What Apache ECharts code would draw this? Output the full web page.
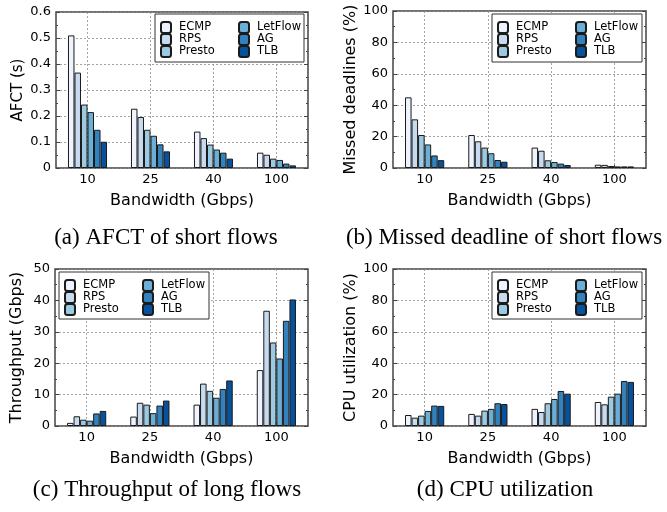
<!DOCTYPE html>
<html>
<head>
<meta charset="utf-8">
<script src="https://cdn.jsdelivr.net/npm/echarts@6/dist/echarts.min.js"></script>
<style>
  html, body { margin: 0; padding: 0; background: #fff; }
  #chart { width: 667px; height: 512px; }
</style>
</head>
<body>
<div id="chart"></div>
<script>
// Link bandwidths on the x axis
const categories = ['10', '25', '40', '100'];
// Load-balancing schemes, one bar per scheme in each group
const schemes = ['ECMP', 'RPS', 'Presto', 'LetFlow', 'AG', 'TLB'];
const schemeColors = ['#eff3ff', '#c6dbef', '#9ecae1', '#6baed6', '#3182bd', '#08519c'];

// (a) average flow completion time of short flows, seconds (rows follow `schemes`)
const afct = [
  [0.510, 0.228, 0.140, 0.059],
  [0.367, 0.196, 0.115, 0.051],
  [0.244, 0.147, 0.090, 0.036],
  [0.215, 0.124, 0.071, 0.031],
  [0.147, 0.091, 0.059, 0.017],
  [0.101, 0.064, 0.036, 0.010]
];
// (b) share of short flows that missed their deadline, %
const missedDeadlines = [
  [45, 21, 13, 2.1],
  [31, 17, 11, 2.0],
  [21, 13, 4.9, 1.3],
  [15, 9.4, 3.8, 1.0],
  [8, 5.1, 2.8, 1.0],
  [5, 4.0, 1.9, 1.0]
];
// (c) throughput of long flows, Gbps
const throughput = [
  [1.0, 3.0, 6.8, 17.8],
  [3.1, 7.4, 13.5, 36.7],
  [2.0, 6.8, 11.2, 26.6],
  [1.7, 4.1, 9.0, 21.5],
  [4.0, 6.5, 11.8, 33.5],
  [4.8, 8.1, 14.5, 40.3]
];
// (d) CPU utilization, %
const cpuUtil = [
  [7.0, 7.7, 10.9, 15.3],
  [5.3, 6.6, 8.9, 13.8],
  [6.6, 9.8, 14.5, 18.7],
  [9.6, 10.9, 17.2, 20.6],
  [13.0, 14.5, 22.3, 28.7],
  [12.8, 14.0, 20.6, 28.1]
];

// Per-panel axis settings
const panels = [
  { data: afct, yName: 'AFCT (s)', yNameSize: 15, max: 0.6, interval: 0.1,
    grid: { left: 56, top: 12, width: 252, height: 156 },
    legendBox: { x: 155, y: 14, w: 149, h: 48 },
    caption: '(a) AFCT of short flows', capX: 166, capY: 238 },
  { data: missedDeadlines, yName: 'Missed deadlines (%)', yNameSize: 16, max: 100, interval: 20,
    grid: { left: 393, top: 11, width: 253, height: 157 },
    legendBox: { x: 492, y: 14, w: 150, h: 48 },
    caption: '(b) Missed deadline of short flows', capX: 504, capY: 238 },
  { data: throughput, yName: 'Throughput (Gbps)', yNameSize: 16, max: 50, interval: 10,
    grid: { left: 55, top: 269, width: 253, height: 157 },
    legendBox: { x: 59, y: 272, w: 150, h: 47 },
    caption: '(c) Throughput of long flows', capX: 167, capY: 490 },
  { data: cpuUtil, yName: 'CPU utilization (%)', yNameSize: 16, max: 100, interval: 20,
    grid: { left: 393, top: 269, width: 253, height: 157 },
    legendBox: { x: 492, y: 272, w: 150, h: 47 },
    caption: '(d) CPU utilization', capX: 505, capY: 490 }
];

const sans = 'DejaVu Sans';
const frameColor = '#444';
const gridLineStyle = { color: '#8c8c8c', type: [2, 2], width: 0.8 };

const option = {
  animation: false,
  backgroundColor: '#fff',
  grid: [], xAxis: [], yAxis: [], series: [], legend: [], graphic: []
};

panels.forEach((p, gi) => {
  option.grid.push(Object.assign({ show: true, borderColor: frameColor, borderWidth: 1.5,
    backgroundColor: 'transparent', containLabel: false }, p.grid));

  option.xAxis.push({
    type: 'category', gridIndex: gi, data: categories,
    name: 'Bandwidth (Gbps)', nameLocation: 'middle', nameGap: 25,
    nameTextStyle: { fontFamily: sans, fontSize: 16, color: '#000' },
    axisLine: { show: false },
    axisTick: { show: true, inside: true, alignWithLabel: true, length: 3, lineStyle: { color: frameColor } },
    axisLabel: { fontFamily: sans, fontSize: 13, color: '#000', margin: 5 },
    splitLine: { show: true, alignWithLabel: true, lineStyle: gridLineStyle }
  });

  const yBase = {
    type: 'value', gridIndex: gi, min: 0, max: p.max, interval: p.interval,
    axisLine: { show: false },
    axisTick: { show: true, inside: true, length: 4, lineStyle: { color: frameColor } },
    minorTick: { show: true, splitNumber: 2, length: 2, lineStyle: { color: frameColor } }
  };
  option.yAxis.push(Object.assign({}, yBase, {
    position: 'left',
    name: p.yName, nameLocation: 'middle', nameGap: 30,
    nameTextStyle: { fontFamily: sans, fontSize: p.yNameSize, color: '#000' },
    axisLabel: { fontFamily: sans, fontSize: 13, color: '#000', margin: 5 },
    splitLine: { show: true, lineStyle: gridLineStyle }
  }));
  // mirrored ticks on the right edge of the frame
  option.yAxis.push(Object.assign({}, yBase, {
    position: 'right',
    axisLabel: { show: false },
    splitLine: { show: false }
  }));

  schemes.forEach((name, si) => {
    option.series.push({
      type: 'bar', name: name, xAxisIndex: gi, yAxisIndex: gi * 2,
      data: p.data[si],
      barGap: '0%', barCategoryGap: '38%',
      itemStyle: { color: schemeColors[si], borderColor: '#1b1b1b', borderWidth: 1 },
      emphasis: { disabled: true }
    });
  });

  // legend: two columns inside a framed box
  const b = p.legendBox;
  option.graphic.push({
    type: 'rect', silent: true, z: 5,
    shape: { x: b.x, y: b.y, width: b.w, height: b.h },
    style: { fill: '#fff', stroke: '#333', lineWidth: 1 }
  });
  [schemes.slice(0, 3), schemes.slice(3)].forEach((col, ci) => {
    option.legend.push({
      orient: 'vertical', left: b.x + (ci === 0 ? 5 : 83), top: b.y + 7,
      padding: 0, itemGap: -1, itemWidth: 10, itemHeight: 11, icon: 'roundRect',
      data: col, z: 10,
      textStyle: { fontFamily: sans, fontSize: 11.5, color: '#000', padding: [0, 0, 0, 3] },
      selectedMode: false
    });
  });

  option.graphic.push({
    type: 'text', silent: true,
    style: { text: p.caption, x: p.capX, y: p.capY, align: 'center', verticalAlign: 'middle',
      font: '23px "Liberation Serif"', fill: '#000' }
  });
});

const chart = echarts.init(document.getElementById('chart'), null, { renderer: 'canvas' });
chart.setOption(option);
</script>
</body>
</html>
